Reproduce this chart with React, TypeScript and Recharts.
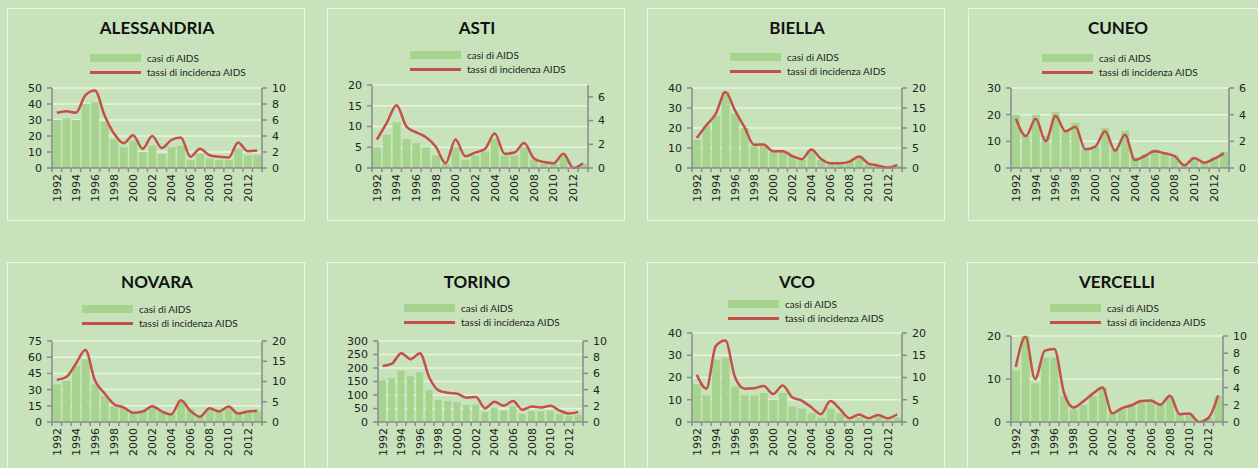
import React from "react";
import { ComposedChart, Bar, Line, XAxis, YAxis, CartesianGrid } from "recharts";

const years = [
  "1992", "1993", "1994", "1995", "1996", "1997", "1998", "1999", "2000", "2001", "2002",
  "2003", "2004", "2005", "2006", "2007", "2008", "2009", "2010", "2011", "2012", "2013",
];

const casiAlessandria = [30, 31, 30, 40, 41, 29, 18, 13, 17, 10, 14, 9, 13, 14, 5, 9, 6, 5, 5, 12, 8, 8];
const tassiAlessandria = [6.9, 7.1, 6.9, 9.1, 9.7, 6.6, 4.3, 3.1, 4.1, 2.4, 4.0, 2.5, 3.5, 3.8, 1.4, 2.4, 1.6, 1.4, 1.3, 3.2, 2.1, 2.2];

const casiAsti = [5, 8, 11, 7, 6, 5, 3, 1, 5, 2, 3, 4, 7, 3, 3, 5, 2, 1, 1, 3, 0, 1];
const tassiAsti = [2.4, 3.8, 5.3, 3.5, 3.0, 2.6, 1.8, 0.4, 2.4, 1.0, 1.3, 1.6, 2.9, 1.2, 1.3, 2.1, 0.8, 0.5, 0.4, 1.2, 0, 0.4];

const casiBiella = [14, 21, 26, 38, 27, 20, 11, 11, 8, 8, 6, 4, 9, 4, 2, 2, 3, 6, 2, 1, 0, 1];
const tassiBiella = [7.5, 10.7, 13.6, 19, 14.4, 10.2, 5.8, 5.9, 4.2, 4.2, 3.0, 2.2, 4.6, 2.3, 1.2, 1.2, 1.6, 2.9, 1.1, 0.6, 0.1, 0.8];

const casiCuneo = [20, 12, 20, 12, 21, 14, 17, 7, 8, 15, 7, 14, 4, 5, 7, 6, 5, 1, 4, 2, 4, 6];
const tassiCuneo = [3.7, 2.4, 3.7, 2.0, 3.9, 2.75, 3.1, 1.4, 1.6, 2.75, 1.3, 2.5, 0.6, 0.9, 1.25, 1.1, 0.9, 0.2, 0.75, 0.4, 0.7, 1.1];

const casiNovara = [35, 38, 52, 58, 35, 24, 15, 13, 9, 10, 14, 10, 7, 20, 12, 5, 13, 9, 14, 8, 9, 10];
const tassiNovara = [10.4, 11.1, 14.4, 17.75, 10.25, 7.1, 4.4, 3.6, 2.3, 2.6, 3.9, 2.6, 1.9, 5.4, 2.75, 1.3, 3.4, 2.6, 3.8, 2.1, 2.6, 2.75];

const casiTorino = [155, 162, 190, 170, 185, 118, 82, 78, 74, 63, 65, 37, 53, 42, 58, 30, 40, 40, 43, 30, 22, 27];
const tassiTorino = [6.9, 7.2, 8.5, 7.75, 8.5, 5.5, 3.9, 3.6, 3.5, 3.0, 3.1, 1.7, 2.5, 2.0, 2.6, 1.5, 1.9, 1.8, 2.0, 1.4, 1.05, 1.25];

const casiVco = [17, 12, 28, 29, 16, 12, 12, 13, 10, 13, 7, 6, 4, 2, 6, 4, 1, 2, 1, 2, 1, 2];
const tassiVco = [10.6, 7.5, 17.1, 18.3, 10.1, 7.5, 7.6, 8.1, 6.3, 8.2, 5.55, 4.8, 3.3, 1.75, 4.7, 2.9, 0.85, 1.7, 0.85, 1.6, 0.85, 1.75];

const casiVercelli = [12, 20, 9, 15, 15, 6, 3, 4, 6, 8, 2, 3, 4, 5, 5, 4, 6, 2, 2, 0, 1, 6];
const tassiVercelli = [6.4, 9.9, 5.0, 8.3, 8.5, 3.4, 1.7, 2.4, 3.3, 4.0, 1.0, 1.6, 1.95, 2.45, 2.5, 2.0, 3.05, 0.9, 1.0, 0, 0.5, 3.1];

const ticks50 = [0, 10, 20, 30, 40, 50];
const ticks40 = [0, 10, 20, 30, 40];
const ticks30 = [0, 10, 20, 30];
const ticks20by5 = [0, 5, 10, 15, 20];
const ticks20by10 = [0, 10, 20];
const ticks75 = [0, 15, 30, 45, 60, 75];
const ticks300 = [0, 50, 100, 150, 200, 250, 300];
const ticks10 = [0, 2, 4, 6, 8, 10];
const ticks6 = [0, 2, 4, 6];

const BG = "#c8e3bc";
const BAR = "#a6d48e";
const LINE = "#c44f4b";
const AXIS = "#8a8a8a";
const GRID = "#e8f3e2";

const PW = 298;
const PH = 213;
const PLOT_BOTTOM = 160;

const panels = [
  { title: "ALESSANDRIA", casi: casiAlessandria, tassi: tassiAlessandria, lt: ticks50, rt: ticks10, rmax: 10,
    x: 7, y: 8, pl: 45, pr: 255, pt: 80, lx: 82, ly: 49 },
  { title: "ASTI", casi: casiAsti, tassi: tassiAsti, lt: ticks20by5, rt: ticks6, rmax: 7,
    x: 327, y: 8, pl: 45, pr: 261, pt: 77, lx: 82, ly: 46 },
  { title: "BIELLA", casi: casiBiella, tassi: tassiBiella, lt: ticks40, rt: ticks20by5, rmax: 20,
    x: 647, y: 8, pl: 45, pr: 255, pt: 80, lx: 82, ly: 48 },
  { title: "CUNEO", casi: casiCuneo, tassi: tassiCuneo, lt: ticks30, rt: ticks6, rmax: 6,
    x: 968, y: 8, pl: 43, pr: 261, pt: 80, lx: 73, ly: 49 },
  { title: "NOVARA", casi: casiNovara, tassi: tassiNovara, lt: ticks75, rt: ticks20by5, rmax: 20,
    x: 7, y: 262, pl: 45, pr: 255, pt: 79, lx: 74, ly: 46 },
  { title: "TORINO", casi: casiTorino, tassi: tassiTorino, lt: ticks300, rt: ticks10, rmax: 10,
    x: 327, y: 262, pl: 51, pr: 256, pt: 79, lx: 76, ly: 45 },
  { title: "VCO", casi: casiVco, tassi: tassiVco, lt: ticks40, rt: ticks20by5, rmax: 20,
    x: 647, y: 262, pl: 45, pr: 255, pt: 71, lx: 80, ly: 41 },
  { title: "VERCELLI", casi: casiVercelli, tassi: tassiVercelli, lt: ticks20by10, rt: ticks10, rmax: 10,
    x: 967, y: 262, pl: 44, pr: 256, pt: 74, lx: 82, ly: 45 },
];

const YearTick = (props: any) => {
  const { x, y, payload, index, band } = props;
  const last = index === years.length - 1;
  return (
    <g>
      <line x1={x - band / 2} x2={x - band / 2} y1={y} y2={y + 4} stroke={AXIS} strokeWidth={1.5} />
      {last && <line x1={x + band / 2} x2={x + band / 2} y1={y} y2={y + 4} stroke={AXIS} strokeWidth={1.5} />}
      {index % 2 === 0 && (
        <text
          x={x}
          y={y + 6}
          dy="0.35em"
          transform={`rotate(-90, ${x}, ${y + 6})`}
          textAnchor="end"
          fontSize={11}
          fontFamily="DejaVu Sans"
          fill="#222"
        >
          {payload.value}
        </text>
      )}
    </g>
  );
};

const Panel = ({ p }: { p: any }) => {
  const data = years.map((year, i) => ({ year, casi: p.casi[i], tassi: p.tassi[i] }));
  const band = (p.pr - p.pl) / years.length;
  const tickStyle = { fontSize: 11, fontFamily: "DejaVu Sans", fill: "#222" };

  return (
    <div
      style={{
        position: "absolute",
        left: p.x,
        top: p.y,
        width: PW,
        height: PH,
        boxSizing: "border-box",
        border: "1.5px solid #eaf4e4",
      }}
    >
      <div
        style={{
          position: "absolute",
          left: 0,
          width: PW,
          top: 8,
          textAlign: "center",
          fontFamily: "Lato",
          fontWeight: 700,
          fontSize: 17,
          color: "#111",
        }}
      >
        {p.title}
      </div>
      <div style={{ position: "absolute", left: p.lx, top: p.ly - 4, width: 51, height: 8, background: BAR }} />
      <div style={{ position: "absolute", left: p.lx, top: p.ly + 13, width: 51, height: 3, background: LINE }} />
      <div style={{ position: "absolute", left: p.lx + 57, top: p.ly - 7, fontFamily: "Lato", fontSize: 10, color: "#222", lineHeight: "14px" }}>
        casi di AIDS
      </div>
      <div style={{ position: "absolute", left: p.lx + 57, top: p.ly + 7, fontFamily: "Lato", fontSize: 10, color: "#222", lineHeight: "14px" }}>
        tassi di incidenza AIDS
      </div>
      <div style={{ position: "absolute", left: -1.5, top: -1.5 }}>
        <ComposedChart
          width={PW}
          height={PH}
          data={data}
          barCategoryGap="10%"
          margin={{ top: p.pt, right: 0, left: 0, bottom: PH - PLOT_BOTTOM - 40 }}
        >
          <CartesianGrid yAxisId="left" vertical={false} stroke={GRID} strokeWidth={1.5} />
          <XAxis
            dataKey="year"
            height={40}
            interval={0}
            tickSize={0}
            tickMargin={0}
            tickLine={false}
            axisLine={{ stroke: AXIS, strokeWidth: 1.5 }}
            tick={<YearTick band={band} />}
          />
          <YAxis
            yAxisId="left"
            width={p.pl}
            domain={[0, p.lt[p.lt.length - 1]]}
            ticks={p.lt}
            interval={0}
            tickSize={5}
            tickMargin={5}
            axisLine={{ stroke: AXIS, strokeWidth: 1.5 }}
            tickLine={{ stroke: AXIS, strokeWidth: 1.5 }}
            tick={tickStyle}
          />
          <YAxis
            yAxisId="right"
            orientation="right"
            width={PW - p.pr}
            domain={[0, p.rmax]}
            ticks={p.rt}
            interval={0}
            tickSize={5}
            tickMargin={5}
            axisLine={{ stroke: AXIS, strokeWidth: 1.5 }}
            tickLine={{ stroke: AXIS, strokeWidth: 1.5 }}
            tick={tickStyle}
          />
          <Bar yAxisId="left" dataKey="casi" fill={BAR} isAnimationActive={false} />
          <Line
            yAxisId="right"
            dataKey="tassi"
            type="monotone"
            stroke={LINE}
            strokeWidth={2.5}
            dot={false}
            activeDot={false}
            isAnimationActive={false}
          />
        </ComposedChart>
      </div>
    </div>
  );
};

export default function App() {
  return (
    <div
      style={{
        position: "absolute",
        left: 0,
        top: 0,
        width: 1258,
        height: 468,
        overflow: "hidden",
        background: BG,
      }}
    >
      {panels.map((p) => (
        <Panel key={p.title} p={p} />
      ))}
    </div>
  );
}
